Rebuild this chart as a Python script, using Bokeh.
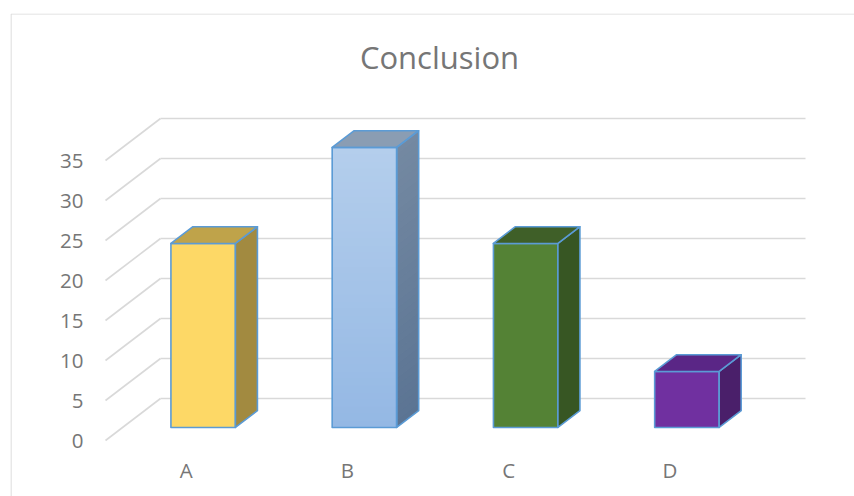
import numpy as np
from bokeh.plotting import figure
from bokeh.models import Range1d, FixedTicker
from bokeh.core.properties import value
from bokeh.embed import file_html
from bokeh.resources import INLINE

# ---- data -------------------------------------------------------------
categories = ["A", "B", "C", "D"]
counts = [23, 35, 23, 7]
y_ticks = [0, 5, 10, 15, 20, 25, 30, 35]

# per-bar colours: front (top, bottom), side (top, bottom), lid
front_top = ["#FDD866", "#B4CEEC", "#548235", "#7030A0"]
front_bottom = ["#FDD866", "#94B8E4", "#548235", "#7030A0"]
side_top = ["#A28A40", "#7489A2", "#375623", "#4A1F6A"]
side_bottom = ["#A28A40", "#5B7493", "#375623", "#4A1F6A"]
lid = ["#BFA34A", "#8A9DB3", "#3F5F28", "#5A2686"]

# ---- layout (pixels) -----------------------------------------------------
W, H = 854, 496
FRAME_LEFT, FRAME_TOP = 10, 13          # outer chart border
ORIGIN_X, ORIGIN_Y = 105, 440           # front-left corner of the floor
CAT_PX = 161.25                         # width of one category
UNIT_PX = 8.0                           # pixels per value unit
DEPTH_PX = (55.0, 42.0)                 # oblique depth of the plot box

DX = DEPTH_PX[0] / CAT_PX               # depth offset in data units
DY = DEPTH_PX[1] / UNIT_PX
BAR_W = 0.40                            # bar width as share of a category
D0, DD = 0.31, 0.40                     # bar front position and depth (share of box depth)

OUTLINE = "#5B9BD5"
GRID = "#D9D9D9"
TEXT = "#767676"
FONT = "Open Sans"


def x_of(px):
    return (px - ORIGIN_X) / CAT_PX


def y_of(py):
    return (ORIGIN_Y - py) / UNIT_PX


p = figure(
    width=W, height=H,
    x_range=Range1d(x_of(FRAME_LEFT), x_of(W)),
    y_range=Range1d(y_of(H), y_of(FRAME_TOP)),
    output_backend="svg", toolbar_location=None,
    min_border_left=FRAME_LEFT, min_border_top=FRAME_TOP,
    min_border_right=0, min_border_bottom=0,
)
p.grid.visible = False
p.background_fill_color = "white"
p.border_fill_color = "white"
p.outline_line_color = None

# chart border: only the left and top edges fall inside the page
p.line(x=[x_of(FRAME_LEFT + 0.5)] * 2, y=[y_of(H), y_of(FRAME_TOP + 0.5)],
       line_color=GRID, line_width=1.2)
p.line(x=[x_of(FRAME_LEFT + 0.5), x_of(W)], y=[y_of(FRAME_TOP + 0.5)] * 2,
       line_color=GRID, line_width=1.2)

# ---- gridlines: floor diagonals on the left and lines on the back wall ----
n = len(categories)
ticks = np.array(y_ticks, dtype=float)
p.segment(x0=np.zeros_like(ticks), y0=ticks, x1=np.full_like(ticks, DX), y1=ticks + DY,
          line_color=GRID, line_width=1.6)
p.segment(x0=np.full_like(ticks, DX), y0=ticks + DY, x1=np.full_like(ticks, n + DX), y1=ticks + DY,
          line_color=GRID, line_width=1.6)

# ---- 3D columns ---------------------------------------------------------------
def blend(c0, c1, t):
    a = [int(c0[i:i + 2], 16) for i in (1, 3, 5)]
    b = [int(c1[i:i + 2], 16) for i in (1, 3, 5)]
    return "#%02x%02x%02x" % tuple(int(round(a[k] + (b[k] - a[k]) * t)) for k in range(3))


STRIPS = 40
for i, v in enumerate(counts):
    xl = i + 0.5 - BAR_W / 2 + D0 * DX
    xr = xl + BAR_W
    yb = D0 * DY
    sx, sy = DD * DX, DD * DY
    front = ([xl, xr, xr, xl], [yb, yb, yb + v, yb + v])
    side = ([xr, xr + sx, xr + sx, xr], [yb, yb + sy, yb + sy + v, yb + v])
    top = ([xl, xr, xr + sx, xl + sx], [yb + v, yb + v, yb + v + sy, yb + v + sy])

    if front_top[i] == front_bottom[i] and side_top[i] == side_bottom[i]:
        p.patches([front[0], side[0], top[0]], [front[1], side[1], top[1]],
                  fill_color=[front_top[i], side_top[i], lid[i]],
                  line_color=OUTLINE, line_width=1.6, line_join="round")
    else:
        # vertical shading in thin strips
        edges = np.linspace(0, v, STRIPS + 1)
        xs, ys, cols = [], [], []
        for k in range(STRIPS):
            a, b = edges[k], edges[k + 1] + v / STRIPS * 0.15
            b = min(b, v)
            t = 1 - (k + 0.5) / STRIPS
            xs.append([xl, xr, xr, xl]); ys.append([yb + a, yb + a, yb + b, yb + b])
            cols.append(blend(front_bottom[i], front_top[i], 1 - t))
            xs.append([xr, xr + sx, xr + sx, xr]); ys.append([yb + a, yb + a + sy, yb + b + sy, yb + b])
            cols.append(blend(side_bottom[i], side_top[i], 1 - t))
        p.patches(xs, ys, fill_color=cols, line_color=None)
        p.patches([top[0]], [top[1]], fill_color=lid[i], line_color=None)
        p.patches([front[0], side[0], top[0]], [front[1], side[1], top[1]],
                  fill_alpha=0, line_color=OUTLINE, line_width=1.6, line_join="round")

# ---- axes placed on the front plane --------------------------------------------
p.yaxis.ticker = FixedTicker(ticks=y_ticks)
p.yaxis.fixed_location = 0
p.xaxis.ticker = FixedTicker(ticks=[k + 0.5 for k in range(n)])
p.xaxis.major_label_overrides = {k + 0.5: c for k, c in enumerate(categories)}
p.xaxis.fixed_location = 0
for ax in (p.xaxis, p.yaxis):
    ax.axis_line_color = None
    ax.major_tick_line_color = None
    ax.minor_tick_line_color = None
    ax.major_tick_out = 0
    ax.major_tick_in = 0
    ax.minor_tick_out = 0
    ax.major_label_text_font = FONT
    ax.major_label_text_font_size = "20.5px"
    ax.major_label_text_color = TEXT
p.yaxis.major_label_standoff = 22
p.xaxis.major_label_standoff = 15

# ---- title ----------------------------------------------------------------------
p.text(x=[x_of(439)], y=[y_of(56)], text=["Conclusion"],
       text_align="center", text_baseline="middle",
       text_font=value(FONT), text_font_size="31px", text_color=TEXT)

open("out.html", "w").write(file_html(p, INLINE))
